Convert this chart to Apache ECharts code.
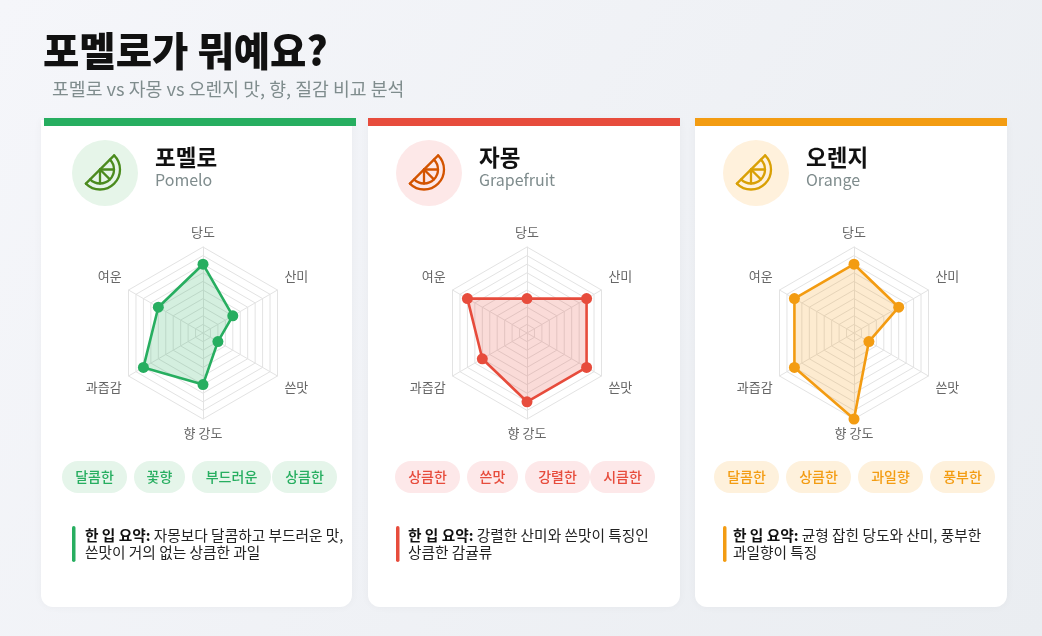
<!DOCTYPE html>
<html>
<head>
<meta charset="utf-8">
<script src="https://cdn.jsdelivr.net/npm/echarts@6/dist/echarts.min.js"></script>
<style>
  html, body { margin: 0; padding: 0; }
  #main { width: 1042px; height: 636px; }
</style>
</head>
<body>
<div id="main"></div>
<script>
// 데이터
var categories = ['당도', '산미', '쓴맛', '향 강도', '과즙감', '여운'];
var pomeloValues = [8, 4, 2, 6, 8, 6];
var grapefruitValues = [4, 8, 8, 8, 6, 8];
var orangeValues = [8, 6, 2, 10, 8, 8];
var maxValue = 10;

var fruitNames = ['포멜로', '자몽', '오렌지'];
var fruitNamesEn = ['Pomelo', 'Grapefruit', 'Orange'];
var pomeloTags = ['달콤한', '꽃향', '부드러운', '상큼한'];
var grapefruitTags = ['상큼한', '쓴맛', '강렬한', '시큼한'];
var orangeTags = ['달콤한', '상큼한', '과일향', '풍부한'];
var summaryLabel = '한 입 요약:';
var summaryLines = [
  [' 자몽보다 달콤하고 부드러운 맛,', '쓴맛이 거의 없는 상큼한 과일'],
  [' 강렬한 산미와 쓴맛이 특징인', '상큼한 감귤류'],
  [' 균형 잡힌 당도와 산미, 풍부한', '과일향이 특징']
];
var chartTitle = '포멜로가 뭐예요?';
var chartSubtitle = '포멜로 vs 자몽 vs 오렌지 맛, 향, 질감 비교 분석';

// 스타일 / 레이아웃
var FONT = '"Noto Sans CJK KR", "Noto Sans", sans-serif';
var themes = [
  { main: '#27ae60', icon: '#4b8b1e', iconBg: '#e6f5e9', tagBg: '#e5f5ea' },
  { main: '#e74c3c', icon: '#d35400', iconBg: '#fde8e8', tagBg: '#fde8e9' },
  { main: '#f39c12', icon: '#d9a005', iconBg: '#fff1dc', tagBg: '#fef1dc' }
];
var barX = [44, 368, 695];
var bodyX = [41, 368, 695];
var bodyW = [311, 312, 312];
var tagLeft = [[62, 134, 192, 272], [395, 467, 525, 590], [714, 786, 858, 930]];
var summaryBarX = [72, 396, 723];
var summaryTextX = [85, 408, 733];

var allValues = [pomeloValues, grapefruitValues, orangeValues];
var allTags = [pomeloTags, grapefruitTags, orangeTags];

// 레이더는 반시계 방향으로 그려지므로 순서를 바꿔준다
var order = [0, 5, 4, 3, 2, 1];
function reorder(arr) { return order.map(function (i) { return arr[i]; }); }

// 옆쪽 라벨은 위/아래로 조금 더 밀어준다
var labelShift = { '산미': 'up', '여운': 'up', '쓴맛': 'down', '과즙감': 'down' };

var myChart = echarts.init(document.getElementById('main'));

var graphics = [];
graphics.push({
  type: 'text',
  style: { x: 43, y: 51, text: chartTitle, fill: '#111', fontSize: 39.5, fontWeight: 900, fontFamily: FONT, verticalAlign: 'middle' }
});
graphics.push({
  type: 'text',
  style: { x: 52, y: 89, text: chartSubtitle, fill: '#7f8c8d', fontSize: 18.3, fontFamily: FONT, verticalAlign: 'middle' }
});

function iconElements(cx, cy, color) {
  var ix = cx - 5, iy = cy - 3.5;
  var r1 = 20, r2 = 14;
  var st = { stroke: color, lineWidth: 2.3, fill: null, lineCap: 'round' };
  var els = [
    { type: 'arc', shape: { cx: ix, cy: iy, r: r1, startAngle: -Math.PI / 4, endAngle: Math.PI * 3 / 4, clockwise: true }, style: st },
    { type: 'arc', shape: { cx: ix, cy: iy, r: r2, startAngle: -Math.PI / 4, endAngle: Math.PI * 3 / 4, clockwise: true }, style: st },
    { type: 'line', shape: { x1: ix + r1 * Math.cos(-Math.PI / 4), y1: iy + r1 * Math.sin(-Math.PI / 4), x2: ix - r1 * Math.cos(-Math.PI / 4), y2: iy - r1 * Math.sin(-Math.PI / 4) }, style: st }
  ];
  [0, Math.PI / 4, Math.PI / 2].forEach(function (a) {
    els.push({ type: 'line', shape: { x1: ix, y1: iy, x2: ix + r2 * Math.cos(a), y2: iy + r2 * Math.sin(a) }, style: st });
  });
  return els;
}

var radars = [];
var series = [];

for (var k = 0; k < 3; k++) {
  var t = themes[k];
  var bx = barX[k];
  // 카드
  graphics.push({
    type: 'rect', shape: { x: bodyX[k], y: 120, width: bodyW[k], height: 487, r: [0, 0, 12, 12] },
    style: { fill: '#fff', shadowBlur: 8, shadowColor: 'rgba(0,0,0,0.04)' }
  });
  graphics.push({
    type: 'rect', shape: { x: bx, y: 118, width: 312, height: 8 },
    style: { fill: t.main }
  });
  // 아이콘
  graphics.push({
    type: 'circle', shape: { cx: bx + 61, cy: 173, r: 33 }, style: { fill: t.iconBg }
  });
  graphics = graphics.concat(iconElements(bx + 61, 173, t.icon));
  // 이름
  graphics.push({
    type: 'text', style: { x: bx + 111, y: 157, text: fruitNames[k], fill: '#111', fontSize: 22.5, fontWeight: 'bold', fontFamily: FONT, verticalAlign: 'middle' }
  });
  graphics.push({
    type: 'text', style: { x: bx + 111, y: 180, text: fruitNamesEn[k], fill: '#7f8c8d', fontSize: 16, fontFamily: FONT, verticalAlign: 'middle' }
  });
  // 태그
  allTags[k].forEach(function (tag, i) {
    var w = 14 * tag.length + 23;
    var x = tagLeft[k][i];
    graphics.push({
      type: 'rect', shape: { x: x, y: 461, width: w, height: 32, r: 16 }, style: { fill: t.tagBg }
    });
    graphics.push({
      type: 'text', style: { x: x + w / 2, y: 477, text: tag, fill: t.main, fontSize: 14, fontWeight: 500, fontFamily: FONT, align: 'center', verticalAlign: 'middle' }
    });
  });
  // 요약
  graphics.push({
    type: 'rect', shape: { x: summaryBarX[k], y: 526, width: 3.5, height: 36, r: 2 }, style: { fill: t.main }
  });
  graphics.push({
    type: 'text',
    style: {
      x: summaryTextX[k], y: 527, verticalAlign: 'top',
      text: '{b|' + summaryLabel + '}{n|' + summaryLines[k][0] + '}\n{n|' + summaryLines[k][1] + '}',
      rich: {
        b: { fontSize: 14.7, fontWeight: 'bold', fill: '#111', fontFamily: FONT, lineHeight: 17 },
        n: { fontSize: 14.7, fill: '#222', fontFamily: FONT, lineHeight: 17 }
      }
    }
  });

  radars.push({
    center: [bx + 159, 333],
    radius: 86,
    startAngle: 90,
    splitNumber: 10,
    shape: 'polygon',
    nameGap: 8,
    indicator: reorder(categories).map(function (c) { return { name: c, max: maxValue }; }),
    axisName: {
      color: '#666', fontSize: 13, fontFamily: FONT,
      formatter: function (name) {
        var s = labelShift[name];
        return s ? '{' + s + '|' + name + '}' : name;
      },
      rich: {
        up: { color: '#666', fontSize: 13, fontFamily: FONT, padding: [0, 0, 20, 0] },
        down: { color: '#666', fontSize: 13, fontFamily: FONT, padding: [14, 0, 0, 0] }
      }
    },
    splitLine: { lineStyle: { color: '#e3e3e3', width: 1 } },
    splitArea: { show: false },
    axisLine: { lineStyle: { color: '#e3e3e3' } }
  });
  series.push({
    type: 'radar',
    radarIndex: k,
    name: fruitNames[k],
    symbol: 'circle',
    symbolSize: 11,
    z: 10,
    lineStyle: { color: t.main, width: 2.6 },
    itemStyle: { color: t.main },
    areaStyle: { color: t.main, opacity: 0.2 },
    data: [{ value: reorder(allValues[k]), name: fruitNames[k] }]
  });
}

var option = {
  backgroundColor: {
    type: 'linear', x: 0, y: 0, x2: 1, y2: 1,
    colorStops: [{ offset: 0, color: '#f5f6fa' }, { offset: 1, color: '#eaedf1' }]
  },
  animation: false,
  graphic: { elements: graphics },
  radar: radars,
  series: series
};

myChart.setOption(option);
</script>
</body>
</html>
